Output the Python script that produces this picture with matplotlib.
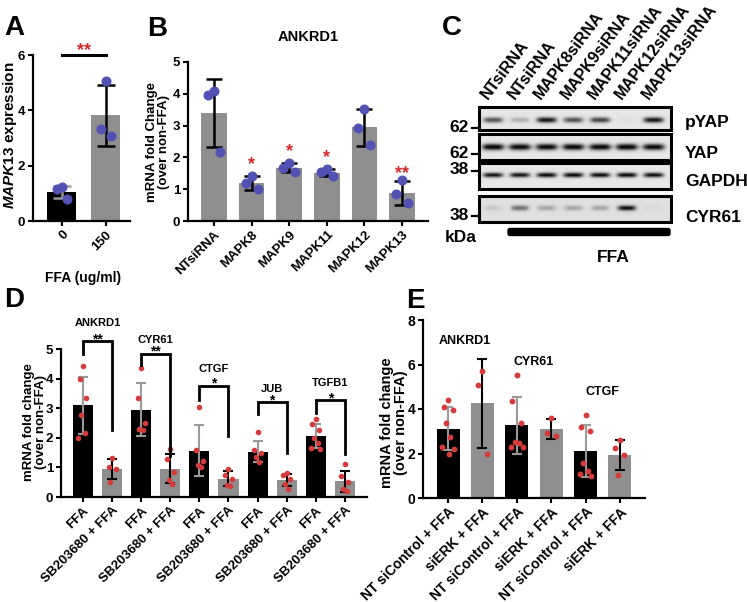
import numpy as np
import matplotlib
matplotlib.use('Agg')
import matplotlib.pyplot as plt
from matplotlib.patches import Rectangle, FancyBboxPatch

plt.rcParams['font.family'] = ['Liberation Sans', 'DejaVu Sans']
plt.rcParams['font.weight'] = 'bold'
plt.rcParams['axes.labelweight'] = 'bold'
plt.rcParams['mathtext.fontset'] = 'custom'
plt.rcParams['mathtext.rm'] = 'Liberation Sans:bold'
plt.rcParams['mathtext.it'] = 'Liberation Sans:italic:bold'
plt.rcParams['mathtext.bf'] = 'Liberation Sans:bold'

# ---------------- data ----------------
# Panel A
a_cats = ['0', '150']
a_means = [1.06, 3.82]
a_sd = [0.22, 1.10]
a_points = [[1.23, 1.15, 0.78], [5.06, 3.33, 3.08]]

# Panel B
b_cats = ['NTsiRNA', 'MAPK8', 'MAPK9', 'MAPK11', 'MAPK12', 'MAPK13']
b_means = [3.40, 1.19, 1.68, 1.52, 2.95, 0.88]
b_sd = [1.07, 0.23, 0.15, 0.12, 0.58, 0.37]
b_points = [[4.10, 3.95, 2.18], [1.42, 1.19, 1.00], [1.83, 1.68, 1.53],
            [1.63, 1.53, 1.42], [3.52, 2.92, 2.40], [1.30, 0.84, 0.56]]
b_sig = ['', '*', '*', '*', '', '**']
b_sig_y = [0, 1.62, 2.04, 1.84, 0, 1.36]

# Panel C (western blot band intensities, 0 = none, 1 = saturated)
c_lanes = ['NTsiRNA', 'NTsiRNA', 'MAPK8siRNA', 'MAPK9siRNA',
           'MAPK11siRNA', 'MAPK12siRNA', 'MAPK13siRNA']
c_rows = ['pYAP', 'YAP', 'GAPDH', 'CYR61']
c_mw = ['62', '62', '38', '38']
band_pyap = [0.60, 0.22, 0.88, 0.62, 0.68, 0.03, 0.88]
band_yap = [0.97, 0.95, 0.94, 0.95, 0.96, 0.97, 0.93]
band_gapdh = [0.88, 0.88, 0.92, 0.94, 0.92, 0.94, 0.90]
band_cyr61 = [0.10, 0.48, 0.25, 0.25, 0.25, 0.88, 0.03]

# Panel D
d_genes = ['ANKRD1', 'CYR61', 'CTGF', 'JUB', 'TGFB1']
d_cats = ['FFA', 'SB203680 + FFA'] * 5
d_means = [3.10, 0.94, 2.95, 0.96, 1.57, 0.62, 1.53, 0.57, 2.06, 0.53]
d_sd = [0.97, 0.33, 0.90, 0.49, 0.85, 0.26, 0.36, 0.21, 0.42, 0.36]
d_points = [[4.41, 3.98, 3.35, 2.76, 2.17, 2.00],
            [1.32, 1.00, 0.95, 0.51],
            [4.35, 3.36, 2.51, 2.30, 2.25],
            [1.62, 1.28, 0.86, 0.58, 0.45],
            [3.05, 1.59, 1.20, 1.09, 1.00],
            [0.95, 0.75, 0.62, 0.42, 0.38],
            [2.19, 1.59, 1.48, 1.36, 1.19],
            [0.80, 0.75, 0.60, 0.43, 0.26],
            [2.65, 2.48, 2.28, 2.00, 1.82, 1.66, 1.63],
            [1.11, 0.72, 0.50, 0.28, 0.20]]
d_sig = ['**', '**', '*', '*', '*']
d_br_top = [5.26, 4.84, 3.75, 3.20, 3.27]
d_br_left = [4.84, 4.47, 3.27, 2.82, 2.84]
d_br_right = [2.27, 1.40, 2.05, 1.48, 1.45]
d_label_y = [5.87, 5.32, 4.32, 3.64, 3.84]

# Panel E
e_genes = ['ANKRD1', 'CYR61', 'CTGF']
e_cats = ['NT siControl + FFA', 'siERK + FFA'] * 3
e_means = [3.12, 4.25, 3.26, 3.10, 2.11, 1.95]
e_sd = [0.96, 2.00, 1.26, 0.43, 1.16, 0.67]
e_points = [[4.40, 4.10, 3.95, 3.35, 2.75, 2.28, 2.19, 2.00],
            [5.70, 5.09, 1.96],
            [5.54, 4.34, 3.35, 2.51, 2.47, 2.30, 2.30],
            [3.59, 2.93, 2.78],
            [3.73, 3.17, 3.02, 1.57, 1.20, 1.08, 0.97],
            [2.60, 2.26, 1.95, 1.03]]
e_label_y = [7.07, 6.12, 4.78]

# ---------------- style ----------------
W, H = 747, 602
BLACK = '#000000'
GRAY = '#8f8f8f'
EGRAY = '#9a9a9a'
BLUE = '#5252b4'
RED = '#d43c3c'
STAR_RED = '#d42a2a'

fig = plt.figure(figsize=(W / 100, H / 100), dpi=100)


def px_axes(l, t, r, b):
    return fig.add_axes([l / W, 1 - b / H, (r - l) / W, (b - t) / H])


def style(ax, fs):
    for s in ['top', 'right']:
        ax.spines[s].set_visible(False)
    for s in ['left', 'bottom']:
        ax.spines[s].set_linewidth(1.6)
    ax.tick_params(width=1.5, length=3.5, labelsize=fs, pad=2)
    for lab in ax.get_yticklabels():
        lab.set_fontweight('bold')


def spread(n, w):
    pat = [0, -1, 1, -0.5, 0.5, -1.3, 1.3, 0.2]
    return [pat[i % len(pat)] * w for i in range(n)]


def bars(ax, x, means, sd, colors, ecolors, width, capsize, elw):
    ax.bar(x, means, width=width, color=colors, zorder=1)
    for xi, m, s, ec in zip(x, means, sd, ecolors):
        ax.errorbar(xi, m, yerr=s, fmt='none', ecolor=ec, elinewidth=elw,
                    capsize=capsize, capthick=elw, zorder=2)


def fig_text(x, y, s, **kw):
    fig.text(x / W, 1 - y / H, s, **kw)


# ---------------- Panel A ----------------
axA = px_axes(33, 55, 130, 221)
xa = np.arange(len(a_cats))
bars(axA, xa, a_means, a_sd, [BLACK, GRAY], [EGRAY, BLACK], 0.66, 6.5, 1.8)
for xi, pts in zip(xa, a_points):
    offs = spread(len(pts), 0.12)
    axA.plot(xi + np.array(offs), pts, 'o', color=BLUE, ms=6.2, zorder=3, clip_on=False)
axA.set_xlim(-0.66, 1.55)
axA.set_ylim(0, 6)
axA.set_yticks([0, 2, 4, 6])
axA.set_xticks(xa)
axA.set_xticklabels(a_cats, rotation=45, ha='right', rotation_mode='anchor',
                    fontsize=9, fontweight='bold')
style(axA, 9.5)
axA.plot([0, 1], [6.0, 6.0], color=BLACK, lw=2.2, clip_on=False)
axA.text(0.5, 6.0, '**', color=STAR_RED, fontsize=13, ha='center', va='baseline')
fig_text(83, 278, 'FFA (ug/ml)', fontsize=10, ha='center', va='center', fontweight='bold')
fig_text(10, 135, r'$\it{MAPK13}$ expression', fontsize=11, rotation=90,
         ha='center', va='center', fontweight='bold')
fig_text(14, 28, 'A', fontsize=20, ha='center', va='center', fontweight='bold')

# ---------------- Panel B ----------------
axB = px_axes(188, 62, 428, 221)
xb = np.arange(len(b_cats))
bars(axB, xb, b_means, b_sd, [GRAY] * 6, [BLACK] * 6, 0.68, 5.8, 1.8)
for xi, pts in zip(xb, b_points):
    offs = spread(len(pts), 0.16)
    axB.plot(xi + np.array(offs), pts, 'o', color=BLUE, ms=6.2, zorder=3, clip_on=False)
for xi, s, y in zip(xb, b_sig, b_sig_y):
    if s:
        axB.text(xi, y, s, color=STAR_RED, fontsize=13, ha='center', va='baseline')
axB.set_xlim(-0.69, 5.69)
axB.set_ylim(0, 5)
axB.set_yticks(range(6))
axB.set_xticks(xb)
axB.set_xticklabels(b_cats, rotation=45, ha='right', rotation_mode='anchor',
                    fontsize=8.5, fontweight='bold')
style(axB, 9.5)
fig_text(308, 37, 'ANKRD1', fontsize=10.5, ha='center', va='center', fontweight='bold')
fig_text(158, 142, 'mRNA fold Change\n(over non-FFA)', fontsize=9.5, rotation=90,
         ha='center', va='center', fontweight='bold', linespacing=1.1)
fig_text(157, 29, 'B', fontsize=20, ha='center', va='center', fontweight='bold')

# ---------------- Panel C ----------------
axC = fig.add_axes([0, 0, 1, 1])
axC.set_xlim(0, W)
axC.set_ylim(H, 0)
axC.axis('off')
box_x0, box_x1 = 479, 671
row_boxes = [(107, 130), (134, 160), (163, 189), (196, 222)]
band_y = [120, 147, 175, 208]
band_hw = [(10, 2.8), (11, 3.2), (10, 2.4), (9, 2.6)]
tick_y = [128, 154, 171, 216]
label_y = [122, 153, 182, 217]
lane_x0, lane_dx = 493, 26.8
bands = [band_pyap, band_yap, band_gapdh, band_cyr61]
bg_dark = [0.10, 0.10, 0.10, 0.13]
for r, (vals, (y0, y1)) in enumerate(zip(bands, row_boxes)):
    xs = np.linspace(box_x0, box_x1, 400)
    ys = np.linspace(y0, y1, 80)
    X, Y = np.meshgrid(xs, ys)
    dark = np.full_like(X, bg_dark[r])
    hw, hh = band_hw[r]
    for i, v in enumerate(vals):
        xc = lane_x0 + i * lane_dx
        dark += v * np.exp(-((X - xc) / hw) ** 4) * np.exp(-((Y - band_y[r]) / hh) ** 2)
    dark = np.clip(dark, 0, 1)
    axC.imshow(dark, cmap='gray_r', vmin=0, vmax=1.05, extent=(box_x0, box_x1, y1, y0),
               aspect='auto', interpolation='bilinear', zorder=1)
    axC.add_patch(Rectangle((box_x0, y0), box_x1 - box_x0, y1 - y0, fill=False,
                            lw=2.2, ec=BLACK, zorder=2))
    axC.plot([472, box_x0], [tick_y[r], tick_y[r]], color=BLACK, lw=1.6)
    axC.text(469, tick_y[r] - 1, c_mw[r], fontsize=12.5, ha='right', va='center', fontweight='bold')
    axC.text(685, label_y[r], c_rows[r], fontsize=12.5, ha='left', va='center', fontweight='bold')
for i, name in enumerate(c_lanes):
    axC.text(lane_x0 + i * lane_dx - 3, 102, name, fontsize=11.6, rotation=53,
             ha='left', va='bottom', rotation_mode='anchor', fontweight='bold')
axC.add_patch(FancyBboxPatch((508, 228.5), 162, 7, boxstyle='round,pad=0,rounding_size=2',
                             fc=BLACK, ec=BLACK))
axC.text(461, 237, 'kDa', fontsize=12.5, ha='center', va='center', fontweight='bold')
axC.text(613, 257, 'FFA', fontsize=12.5, ha='center', va='center', fontweight='bold')
axC.text(452, 28, 'C', fontsize=20, ha='center', va='center', fontweight='bold')

# ---------------- Panel D ----------------
axD = px_axes(61, 349, 367, 497)
xd = np.arange(len(d_cats))
d_colors = [BLACK, GRAY] * 5
d_ecolors = [EGRAY, BLACK] * 5
bars(axD, xd, d_means, d_sd, d_colors, d_ecolors, 0.69, 3.8, 1.5)
for xi, pts in zip(xd, d_points):
    offs = spread(len(pts), 0.12)
    axD.plot(xi + np.array(offs), pts, 'o', color=RED, ms=3.0, zorder=3, clip_on=False)
for g in range(5):
    xl, xr = 2 * g, 2 * g + 1
    axD.plot([xl, xl, xr, xr], [d_br_left[g], d_br_top[g], d_br_top[g], d_br_right[g]],
             color=BLACK, lw=2.0, clip_on=False, zorder=4, solid_joinstyle='miter')
    axD.text(xl + 0.5, d_br_top[g] - 0.06, d_sig[g], fontsize=10, ha='center',
             va='baseline', fontweight='bold')
    axD.text(xl + 0.5, d_label_y[g], d_genes[g], fontsize=8, ha='center',
             va='center', fontweight='bold')
axD.set_xlim(-0.756, 9.76)
axD.set_ylim(0, 5)
axD.set_yticks(range(6))
axD.set_xticks(xd)
axD.set_xticklabels(d_cats, rotation=45, ha='right', rotation_mode='anchor',
                    fontsize=8, fontweight='bold')
style(axD, 9.5)
fig_text(35, 422, 'mRNA fold change\n(over non-FFA)', fontsize=9.5, rotation=90,
         ha='center', va='center', fontweight='bold', linespacing=1.1)
fig_text(14, 300, 'D', fontsize=20, ha='center', va='center', fontweight='bold')

# ---------------- Panel E ----------------
axE = px_axes(423, 320, 645, 498)
xe = np.arange(len(e_cats))
e_colors = [BLACK, GRAY] * 3
e_ecolors = [EGRAY, BLACK] * 3
bars(axE, xe, e_means, e_sd, e_colors, e_ecolors, 0.67, 3.8, 1.5)
for xi, pts in zip(xe, e_points):
    offs = spread(len(pts), 0.13)
    axE.plot(xi + np.array(offs), pts, 'o', color=RED, ms=3.2, zorder=3, clip_on=False)
for g in range(3):
    axE.text(2 * g + 0.5, e_label_y[g], e_genes[g], fontsize=9, ha='center',
             va='center', fontweight='bold')
axE.set_xlim(-0.73, 5.73)
axE.set_ylim(0, 8)
axE.set_yticks([0, 2, 4, 6, 8])
axE.set_xticks(xe)
axE.set_xticklabels(e_cats, rotation=45, ha='right', rotation_mode='anchor',
                    fontsize=8.0, fontweight='bold')
style(axE, 10)
axE.tick_params(axis='x', pad=1.5)
fig_text(394, 423, 'mRNA fold change\n(over non-FFA)', fontsize=10.5, rotation=90,
         ha='center', va='center', fontweight='bold', linespacing=1.05)
fig_text(415, 301, 'E', fontsize=20, ha='center', va='center', fontweight='bold')

fig.savefig('out.png', dpi=100)
